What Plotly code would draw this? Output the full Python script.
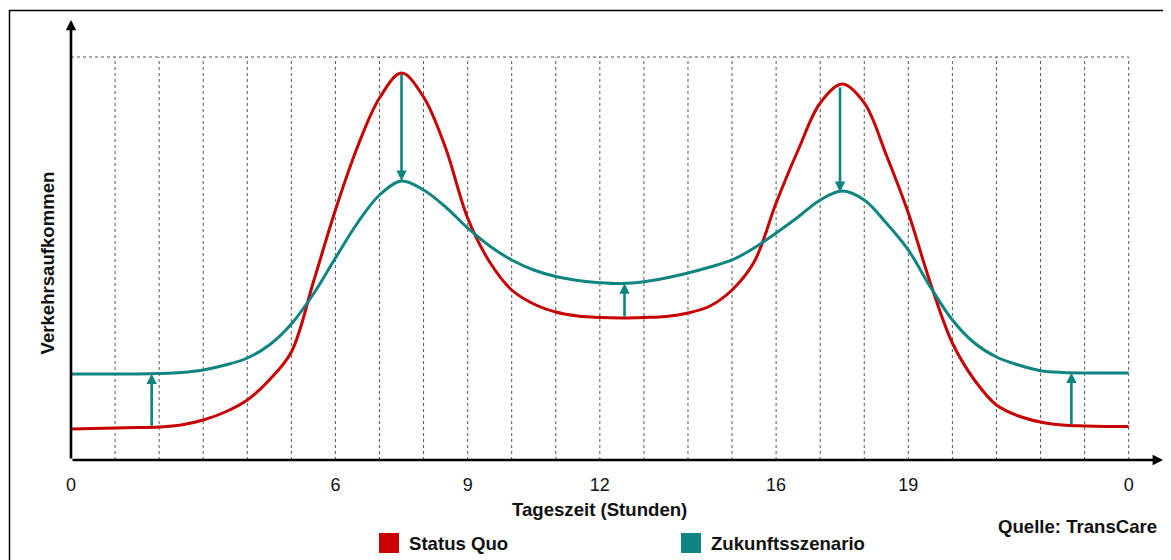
import numpy as np
import plotly.graph_objects as go

# ---- data (hour of day, relative traffic volume) ----
hours = [0, 0.5, 1, 1.5, 2, 2.5, 3, 3.5, 4, 4.5, 5, 5.5, 6, 6.5, 7, 7.5, 8, 8.5, 9, 9.5,
         10, 10.5, 11, 11.5, 12, 12.5, 13, 13.5, 14, 14.5, 15, 15.5, 16, 16.5, 17, 17.5,
         18, 18.5, 19, 19.5, 20, 20.5, 21, 21.5, 22, 22.5, 23, 23.5, 24]
status_quo = [7.69, 7.82, 7.94, 8.06, 8.19, 8.68, 9.93, 11.91, 14.89, 19.85, 26.80, 44.17,
              62.03, 77.67, 89.83, 96.03, 90.07, 77.42, 60.05, 49.13, 42.18, 38.71, 36.72,
              35.73, 35.36, 35.24, 35.36, 35.61, 36.48, 38.21, 42.18, 49.13, 63.77, 76.92,
              88.59, 93.30, 88.59, 75.68, 61.29, 43.92, 29.03, 19.85, 13.65, 10.92, 9.43,
              8.68, 8.44, 8.31, 8.31]
zukunft = [21.34, 21.34, 21.34, 21.34, 21.46, 21.71, 22.33, 23.57, 25.31, 28.54, 33.75, 41.19,
           50.12, 58.81, 65.76, 69.23, 67.00, 62.78, 57.57, 53.10, 49.63, 47.15, 45.53,
           44.54, 44.00, 43.80, 44.24, 45.16, 46.40, 47.89, 49.63, 52.61, 56.33, 60.30,
           64.52, 66.75, 64.52, 58.81, 52.11, 42.93, 34.74, 29.03, 25.56, 23.57, 22.16,
           21.71, 21.59, 21.59, 21.59]

arrow_hours = [1.83, 7.5, 12.56, 17.45, 22.7]
grid_hours = list(range(1, 25))
tick_vals = [0, 6, 9, 12, 16, 19, 24]
tick_text = ["0", "6", "9", "12", "16", "19", "0"]
y_top = 100

RED = "#C80000"
TEAL = "#0F8582"
FONT = "Liberation Sans, Arial, sans-serif"
TXT = 18.6

# page-pixel helpers (plot area spans x 71..1164, y 20..460 on the page)
def px_x(p):
    return (p - 71) / 1093

def px_y(p):
    return (460 - p) / 440

fig = go.Figure()

shapes = []
for h in grid_hours:
    shapes.append(dict(type="line", xref="x", yref="y", x0=h, x1=h, y0=0, y1=y_top,
                       line=dict(color="#555555", width=1, dash="dot"), layer="below"))
shapes.append(dict(type="line", xref="x", yref="y", x0=0, x1=24, y0=y_top, y1=y_top,
                   line=dict(color="#555555", width=1, dash="dot"), layer="below"))
# outer frame
shapes.append(dict(type="rect", xref="paper", yref="paper",
                   x0=px_x(9.5), x1=1.3, y0=-1, y1=px_y(10.5),
                   line=dict(color="black", width=1.5), layer="below"))

fig.add_trace(go.Scatter(x=hours, y=status_quo, mode="lines", name="Status Quo",
                         line=dict(color=RED, width=3, shape="spline", smoothing=1.0),
                         showlegend=False))
fig.add_trace(go.Scatter(x=hours, y=zukunft, mode="lines", name="Zukunftsszenario",
                         line=dict(color=TEAL, width=3, shape="spline", smoothing=1.0),
                         showlegend=False))

annotations = []
for h in arrow_hours:
    y0 = float(np.interp(h, hours, status_quo))
    y1 = float(np.interp(h, hours, zukunft))
    annotations.append(dict(x=h, y=y1, ax=h, ay=y0, xref="x", yref="y", axref="x", ayref="y",
                            showarrow=True, arrowhead=2, arrowsize=0.8, arrowwidth=2.6,
                            arrowcolor=TEAL, text="", standoff=0))

# axes with arrowheads
x_end = 24.78
y_end = 109.2
annotations.append(dict(x=x_end, y=0, ax=0, ay=0, xref="x", yref="y", axref="x", ayref="y",
                        showarrow=True, arrowhead=2, arrowsize=0.8, arrowwidth=2.6,
                        arrowcolor="black", text=""))
annotations.append(dict(x=0, y=y_end, ax=0, ay=0, xref="x", yref="y", axref="x", ayref="y",
                        showarrow=True, arrowhead=2, arrowsize=0.8, arrowwidth=2.6,
                        arrowcolor="black", text=""))

annotations.append(dict(x=12, y=px_y(509), xref="x", yref="paper",
                        text="<b>Tageszeit (Stunden)</b>", showarrow=False,
                        font=dict(size=TXT, color="#111111", family=FONT),
                        xanchor="center", yanchor="middle"))
annotations.append(dict(x=px_x(46.5), y=px_y(263), xref="paper", yref="paper",
                        text="<b>Verkehrsaufkommen</b>", showarrow=False, textangle=-90,
                        font=dict(size=TXT, color="#111111", family=FONT),
                        xanchor="center", yanchor="middle"))
annotations.append(dict(x=px_x(1159), y=px_y(526), xref="paper", yref="paper",
                        text="<b>Quelle: TransCare</b>", showarrow=False,
                        font=dict(size=TXT, color="#111111", family=FONT),
                        xanchor="right", yanchor="middle"))

legend_items = [("Status Quo", RED, 379), ("Zukunftsszenario", TEAL, 681)]
for name, col, px in legend_items:
    shapes.append(dict(type="rect", xref="paper", yref="paper",
                       x0=px_x(px), x1=px_x(px + 20),
                       y0=px_y(553), y1=px_y(533),
                       fillcolor=col, line=dict(width=0)))
    annotations.append(dict(x=px_x(px + 28), y=px_y(543), xref="paper", yref="paper",
                            text="<b>" + name + "</b>", showarrow=False,
                            font=dict(size=TXT, color="#111111", family=FONT),
                            xanchor="left", yanchor="middle"))

# page body has an 8px margin, so the figure is 8px smaller and margins shifted
fig.update_layout(
    width=1163, height=552,
    margin=dict(l=63, r=7, t=12, b=100, pad=0),
    paper_bgcolor="white", plot_bgcolor="white",
    shapes=shapes, annotations=annotations,
    showlegend=False,
    font=dict(family=FONT, color="#111111"),
)
fig.update_xaxes(range=[0, 1093 / 44.07], tickvals=tick_vals, ticktext=tick_text,
                 showgrid=False, zeroline=False, showline=False, ticks="",
                 ticklabelstandoff=12, tickfont=dict(size=18, family=FONT, color="#111111"),
                 fixedrange=True)
fig.update_yaxes(range=[0, 440 / 4.03], showticklabels=False, showgrid=False, zeroline=False,
                 showline=False, ticks="", fixedrange=True)

fig.write_html("out.html")
